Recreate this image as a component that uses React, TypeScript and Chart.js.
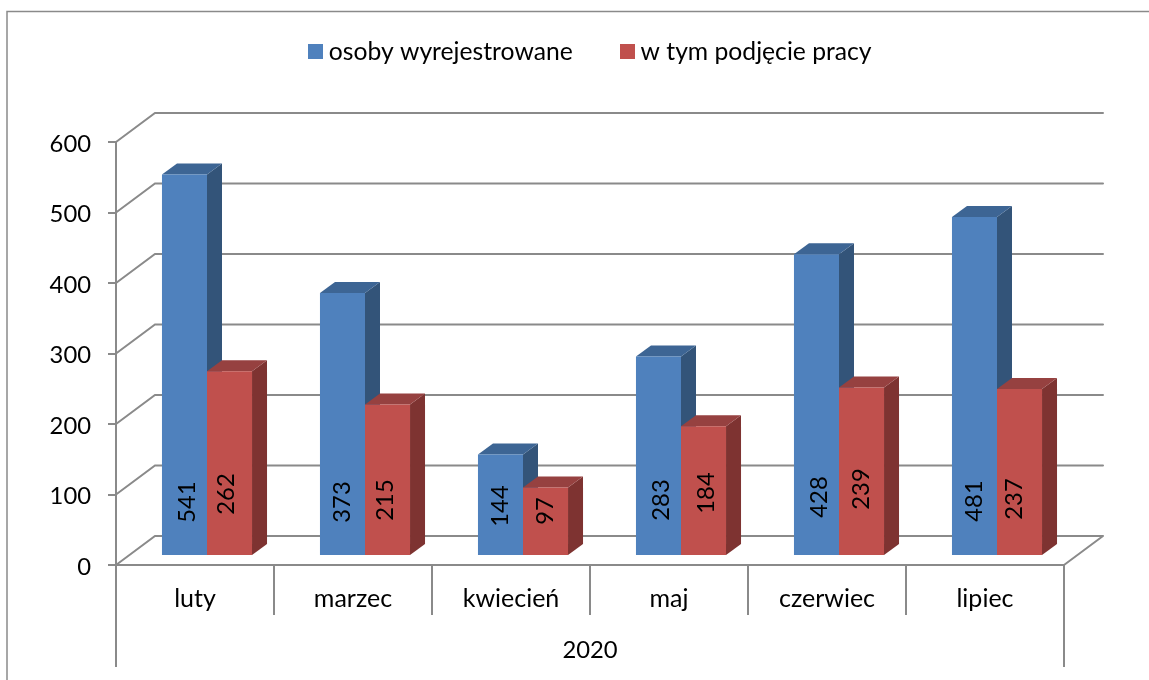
import React, { useEffect, useRef } from "react";
import { Chart, registerables } from "chart.js";

Chart.register(...registerables);

const months = ["luty", "marzec", "kwiecień", "maj", "czerwiec", "lipiec"];
const years = ["2020"];
const deregistered = [541, 373, 144, 283, 428, 481];
const employed = [262, 215, 97, 184, 239, 237];
const seriesNames = ["osoby wyrejestrowane", "w tym podjęcie pracy"];

const FONT = "Lato";
const TEXT_SIZE = 25;
const LEGEND_SIZE = 24.7;
const DIGIT_SIZE = 23.8;
const GREY = "#8a8a8a";
const FRONT = ["#4f81bd", "#c0504d"];
const SIDE = ["#335479", "#7e3331"];
const TOP = ["#3d6594", "#964140"];

// 3D projection of the imitated chart
const WALL = { dx: 39, dy: -29 };
const BAR_SHIFT = { dx: 12, dy: -9 };
const BAR_DEPTH = { dx: 15, dy: -11 };
const LEGEND_SHIFT = -3.5;
// hand placement of the value labels: [x nudge, height above the bar foot]
const LABEL_PLACE = [
  [[3, 53], [0, 53], [0, 49], [3, 55], [2.5, 58], [0, 54]],
  [[-3, 61], [-2.5, 55], [0, 44], [3, 62], [0, 66], [-5.5, 56]],
];

const poly = (ctx: CanvasRenderingContext2D, pts: number[][], fill: string) => {
  ctx.beginPath();
  pts.forEach(([x, y], i) => (i ? ctx.lineTo(x, y) : ctx.moveTo(x, y)));
  ctx.closePath();
  ctx.fillStyle = fill;
  ctx.fill();
};

const depthPlugin = {
  id: "depth",
  beforeInit(chart: any) {
    const fit = chart.legend.fit;
    chart.legend.fit = function () {
      fit.call(this);
      this.height = 142.85;
    };
  },
  afterLayout(chart: any) {
    const y = chart.scales.y;
    y.left = 0;
    y.width = y.right;
    chart.legend.left += LEGEND_SHIFT;
    chart.legend.right += LEGEND_SHIFT;
  },
  beforeDraw(chart: any) {
    const ctx = chart.ctx;
    ctx.save();
    ctx.strokeStyle = GREY;
    ctx.lineWidth = 1.5;
    ctx.beginPath();
    ctx.moveTo(7, 680);
    ctx.lineTo(7, 11.5);
    ctx.lineTo(1149, 11.5);
    ctx.stroke();
    ctx.restore();
  },
  beforeDatasetsDraw(chart: any) {
    const ctx = chart.ctx;
    const y = chart.scales.y;
    const { left, right, bottom } = chart.chartArea;
    ctx.save();
    ctx.strokeStyle = GREY;
    ctx.lineWidth = 2;
    ctx.lineCap = "round";
    ctx.beginPath();
    y.ticks.forEach((t: any) => {
      const py = y.getPixelForValue(t.value);
      ctx.moveTo(left, py);
      ctx.lineTo(left + WALL.dx, py + WALL.dy);
      ctx.lineTo(right + WALL.dx, py + WALL.dy);
    });
    ctx.moveTo(right, bottom);
    ctx.lineTo(right + WALL.dx, bottom + WALL.dy);
    ctx.stroke();
    ctx.restore();
    ctx.save();
    ctx.translate(BAR_SHIFT.dx, BAR_SHIFT.dy);
    const { dx, dy } = BAR_DEPTH;
    chart.data.datasets.forEach((_: any, i: number) => {
      chart.getDatasetMeta(i).data.forEach((el: any) => {
        const l = el.x - el.width / 2;
        const r = el.x + el.width / 2;
        poly(ctx, [[r, el.y], [r + dx, el.y + dy], [r + dx, el.base + dy], [r, el.base]], SIDE[i]);
        poly(ctx, [[l, el.y], [l + dx, el.y + dy], [r + dx, el.y + dy], [r, el.y]], TOP[i]);
      });
    });
  },
  afterDatasetsDraw(chart: any) {
    const ctx = chart.ctx;
    chart.data.datasets.forEach((ds: any, i: number) => {
      chart.getDatasetMeta(i).data.forEach((el: any, j: number) => {
        const [nudge, lift] = LABEL_PLACE[i][j];
        ctx.save();
        ctx.translate(el.x + nudge, el.base - lift);
        ctx.rotate(-Math.PI / 2);
        ctx.font = `${DIGIT_SIZE}px ${FONT}`;
        ctx.fillStyle = "#000";
        ctx.textAlign = "center";
        ctx.textBaseline = "middle";
        ctx.fillText(String(ds.data[j]), 0, 0);
        ctx.restore();
      });
    });
    ctx.restore();
  },
  afterDraw(chart: any) {
    const ctx = chart.ctx;
    chart.legend.legendHitBoxes.forEach((b: any, i: number) => {
      ctx.fillStyle = FRONT[i];
      ctx.fillRect(Math.round(b.left + 6.5), Math.round(b.top + (b.height - 15) / 2) - 1, 15, 15);
    });
  },
};

export default function App() {
  const ref = useRef<HTMLCanvasElement>(null);
  useEffect(() => {
    const chart = new Chart(ref.current!, {
      type: "bar",
      data: {
        labels: months,
        datasets: [
          { label: seriesNames[0], data: deregistered, backgroundColor: FRONT[0], clip: false },
          { label: seriesNames[1], data: employed, backgroundColor: FRONT[1], clip: false },
        ],
      } as any,
      plugins: [depthPlugin],
      options: {
        animation: false,
        responsive: false,
        layout: { padding: { left: 116, right: 85, top: -0.85, bottom: 0 } },
        datasets: { bar: { categoryPercentage: 0.57, barPercentage: 1 } },
        plugins: {
          tooltip: { enabled: false },
          legend: {
            position: "top",
            align: "center",
            onClick: () => {},
            labels: {
              boxWidth: 15,
              boxHeight: 15,
              padding: 40.5,
              color: "#000",
              font: { family: FONT, size: LEGEND_SIZE },
              generateLabels: (c: any) =>
                Chart.defaults.plugins.legend.labels
                  .generateLabels(c)
                  .map((l: any) => ({ ...l, fillStyle: "rgba(0,0,0,0)", strokeStyle: "rgba(0,0,0,0)", lineWidth: 0 })),
            },
          },
        },
        scales: {
          x: {
            position: "bottom",
            weight: 0,
            offset: true,
            afterFit: (s: any) => { s.height = 50; },
            grid: { offset: true, drawOnChartArea: false, tickLength: 50, color: GREY, lineWidth: 2 },
            border: { display: true, color: GREY, width: 2 },
            ticks: { padding: -31, autoSkip: false, maxRotation: 0, color: "#000", font: { family: FONT, size: TEXT_SIZE } },
          },
          x2: {
            type: "category",
            axis: "x",
            position: "bottom",
            weight: 1,
            labels: years,
            offset: true,
            afterFit: (s: any) => { s.height = 65; },
            grid: { offset: true, drawOnChartArea: false, tickLength: 52, color: GREY, lineWidth: 2 },
            border: { display: false },
            ticks: { padding: -31, autoSkip: false, maxRotation: 0, color: "#000", font: { family: FONT, size: DIGIT_SIZE } },
          },
          y: {
            min: 0,
            max: 600,
            afterFit: (s: any) => { s.width = 0; },
            ticks: { stepSize: 100, padding: 17, labelOffset: 2, color: "#000", font: { family: FONT, size: DIGIT_SIZE } },
            grid: { drawOnChartArea: false, tickLength: 8, color: GREY, lineWidth: 2 },
            border: { display: true, color: GREY, width: 2 },
          },
        },
      } as any,
    });
    return () => chart.destroy();
  }, []);
  return (
    <div style={{ position: "fixed", left: 0, top: 0, width: 1149, height: 680, background: "#fff" }}>
      <canvas ref={ref} width={1149} height={680} style={{ display: "block" }} />
    </div>
  );
}
